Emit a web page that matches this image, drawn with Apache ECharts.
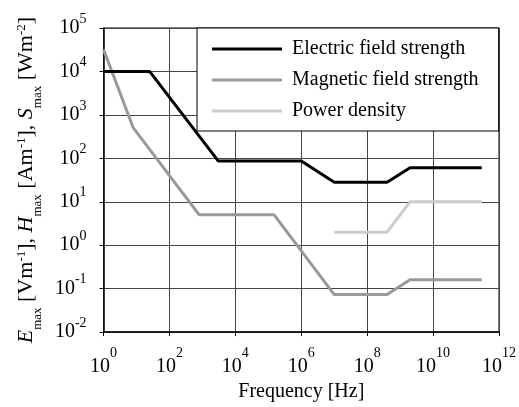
<!DOCTYPE html>
<html><head><meta charset="utf-8">
<script src="https://cdn.jsdelivr.net/npm/echarts@6/dist/echarts.min.js"></script>
<style>html,body{margin:0;padding:0;background:#fff}#c{width:519px;height:407px}</style>
</head><body><div id="c"></div>
<script>
// Frequencies in Hz and limit values
const eFreq = [1, 25, 3000, 1e6, 1e7, 4e8, 2e9, 3e11];
const eVals = [1e4, 1e4, 87, 87, 28, 28, 61, 61];
const hFreq = [1, 8, 25, 800, 1.5e5, 1e7, 4e8, 2e9, 3e11];
const hVals = [3.2e4, 500, 160, 5, 5, 0.073, 0.073, 0.16, 0.16];
const sFreq = [1e7, 4e8, 2e9, 3e11];
const sVals = [2, 2, 10, 10];
const seriesNames = ['Electric field strength', 'Magnetic field strength', 'Power density'];

const FONT = 'Liberation Serif';
const pair = (f, v) => f.map((x, i) => [x, v[i]]);
const expLabel = (val) => {
  const e = Math.round(Math.log10(val));
  return '{b|10}{sup|' + e + '}';
};
const xRich = {
  b: { fontSize: 20, fontFamily: FONT, color: '#000', lineHeight: 42 },
  sup: { fontSize: 14, fontFamily: FONT, color: '#000', verticalAlign: 'top' }
};
const yRich = {
  b: { fontSize: 20, fontFamily: FONT, color: '#000', lineHeight: 32 },
  sup: { fontSize: 14, fontFamily: FONT, color: '#000', verticalAlign: 'top' }
};

const chart = echarts.init(document.getElementById('c'), null, { renderer: 'canvas' });
chart.setOption({
  animation: false,
  backgroundColor: '#fff',
  grid: { left: 100, right: 19, top: 28, bottom: 72, show: true, borderColor: '#000', borderWidth: 1, containLabel: false },
  legend: {
    orient: 'vertical', left: 197, top: 28,
    backgroundColor: '#fff', borderColor: '#000', borderWidth: 1,
    padding: [11, 20, 10, 15],
    itemWidth: 70, itemHeight: 3, itemGap: 11, icon: 'rect',
    formatter: (n) => ' ' + n,
    textStyle: { fontFamily: FONT, fontSize: 20, color: '#000' },
    data: seriesNames
  },
  xAxis: {
    type: 'log', logBase: 10, min: 1, max: 1e12, interval: 2,
    name: 'Frequency [Hz]', nameLocation: 'middle', nameGap: 49,
    nameTextStyle: { fontFamily: FONT, fontSize: 20, color: '#000' },
    axisLine: { lineStyle: { color: '#000', width: 1.5 } },
    axisTick: { show: true, length: 4, lineStyle: { color: '#000' } },
    minorTick: { show: false },
    splitLine: { show: true, lineStyle: { color: '#444', width: 1 } },
    axisLabel: { margin: 14, formatter: expLabel, rich: xRich }
  },
  yAxis: {
    type: 'log', logBase: 10, min: 0.01, max: 1e5, interval: 1,
    name: '{i|E}{sub|max} [Vm{sup|-1}], {i|H}{sub|max} [Am{sup|-1}], {i|S}{sub|max} [Wm{sup|-2}]',
    nameLocation: 'middle', nameGap: 58, nameRotate: 90,
    nameTextStyle: {
      fontFamily: FONT, fontSize: 22, color: '#000', lineHeight: 36,
      rich: {
        i: { fontFamily: FONT, fontSize: 22, fontStyle: 'italic', color: '#000', lineHeight: 36 },
        sub: { fontFamily: FONT, fontSize: 13, color: '#000', verticalAlign: 'bottom' },
        sup: { fontFamily: FONT, fontSize: 13, color: '#000', verticalAlign: 'top', padding: [7, 0, 0, 0] }
      }
    },
    axisLine: { show: true, lineStyle: { color: '#000', width: 1.5 } },
    axisTick: { show: true, length: 4, lineStyle: { color: '#000' } },
    splitLine: { show: true, lineStyle: { color: '#444', width: 1 } },
    axisLabel: { margin: 17, formatter: expLabel, rich: yRich }
  },
  series: [
    { name: seriesNames[0], type: 'line', data: pair(eFreq, eVals), symbol: 'none', color: '#000', lineStyle: { width: 3, color: '#000' }, z: 4 },
    { name: seriesNames[1], type: 'line', data: pair(hFreq, hVals), symbol: 'none', color: '#999', lineStyle: { width: 3, color: '#999' }, z: 3 },
    { name: seriesNames[2], type: 'line', data: pair(sFreq, sVals), symbol: 'none', color: '#ccc', lineStyle: { width: 3, color: '#ccc' }, z: 2 }
  ]
});
</script>
</body></html>
